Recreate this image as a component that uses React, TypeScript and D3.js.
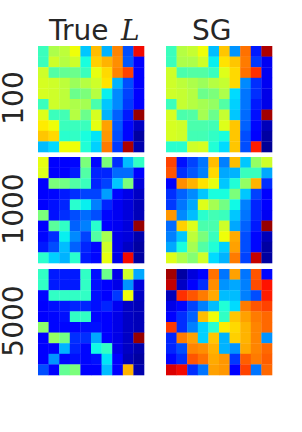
import React, { useRef, useEffect } from 'react';
import * as d3 from 'd3';

const columnTitles = ['True', 'SG'];
const rowLabels = ['100', '1000', '5000'];

// values are positions on the jet colormap (0..1)
const trueL100 = [
    [0.42, 0.56, 0.58, 0.64, 0.32, 0.71, 0.30, 0.77, 0.20, 0.90],
    [0.42, 0.60, 0.57, 0.60, 0.38, 0.69, 0.72, 0.76, 0.21, 0.12],
    [0.60, 0.45, 0.47, 0.48, 0.42, 0.63, 0.68, 0.77, 0.84, 0.12],
    [0.61, 0.60, 0.58, 0.54, 0.57, 0.60, 0.67, 0.30, 0.20, 0.12],
    [0.61, 0.60, 0.58, 0.48, 0.50, 0.57, 0.36, 0.26, 0.19, 0.12],
    [0.42, 0.60, 0.58, 0.56, 0.55, 0.44, 0.32, 0.26, 0.18, 0.11],
    [0.62, 0.42, 0.43, 0.57, 0.48, 0.61, 0.30, 0.22, 0.15, 0.98],
    [0.66, 0.64, 0.42, 0.42, 0.42, 0.63, 0.74, 0.21, 0.13, 0.06],
    [0.70, 0.68, 0.40, 0.41, 0.38, 0.35, 0.75, 0.20, 0.13, 0.03],
    [0.31, 0.34, 0.64, 0.64, 0.39, 0.33, 0.78, 0.18, 0.96, 0.04],
];

const sg100 = [
    [0.42, 0.57, 0.59, 0.64, 0.31, 0.70, 0.27, 0.79, 0.15, 0.96],
    [0.42, 0.56, 0.56, 0.60, 0.36, 0.67, 0.70, 0.78, 0.18, 0.10],
    [0.60, 0.44, 0.45, 0.45, 0.42, 0.62, 0.68, 0.79, 0.86, 0.10],
    [0.60, 0.58, 0.56, 0.54, 0.57, 0.59, 0.68, 0.26, 0.17, 0.10],
    [0.60, 0.59, 0.57, 0.48, 0.50, 0.56, 0.34, 0.24, 0.17, 0.09],
    [0.42, 0.59, 0.57, 0.55, 0.53, 0.45, 0.33, 0.24, 0.15, 0.09],
    [0.61, 0.44, 0.45, 0.55, 0.48, 0.59, 0.32, 0.23, 0.14, 0.97],
    [0.61, 0.60, 0.44, 0.44, 0.43, 0.62, 0.70, 0.22, 0.13, 0.05],
    [0.61, 0.60, 0.43, 0.43, 0.41, 0.38, 0.70, 0.20, 0.12, 0.03],
    [0.40, 0.40, 0.60, 0.61, 0.39, 0.34, 0.70, 0.20, 0.88, 0.02],
];

const trueL1000 = [
    [0.63, 0.12, 0.12, 0.13, 0.50, 0.13, 0.50, 0.17, 0.31, 0.41],
    [0.62, 0.12, 0.12, 0.15, 0.45, 0.16, 0.16, 0.23, 0.23, 0.12],
    [0.12, 0.50, 0.49, 0.45, 0.42, 0.16, 0.19, 0.32, 0.50, 0.08],
    [0.12, 0.13, 0.15, 0.17, 0.19, 0.19, 0.28, 0.13, 0.09, 0.06],
    [0.12, 0.14, 0.16, 0.40, 0.36, 0.25, 0.16, 0.10, 0.08, 0.05],
    [0.50, 0.14, 0.17, 0.20, 0.23, 0.20, 0.13, 0.10, 0.08, 0.05],
    [0.12, 0.46, 0.41, 0.22, 0.25, 0.40, 0.12, 0.10, 0.08, 0.98],
    [0.13, 0.17, 0.36, 0.26, 0.19, 0.45, 0.55, 0.09, 0.08, 0.04],
    [0.15, 0.20, 0.31, 0.22, 0.16, 0.13, 0.60, 0.09, 0.06, 0.03],
    [0.40, 0.33, 0.30, 0.40, 0.15, 0.13, 0.63, 0.09, 0.90, 0.03],
];

const sg1000 = [
    [0.84, 0.14, 0.19, 0.24, 0.71, 0.25, 0.71, 0.32, 0.53, 0.60],
    [0.82, 0.17, 0.21, 0.25, 0.68, 0.29, 0.30, 0.42, 0.42, 0.29],
    [0.12, 0.76, 0.72, 0.67, 0.63, 0.32, 0.39, 0.53, 0.72, 0.17],
    [0.17, 0.22, 0.26, 0.32, 0.38, 0.38, 0.50, 0.32, 0.19, 0.12],
    [0.18, 0.24, 0.29, 0.62, 0.55, 0.49, 0.37, 0.25, 0.16, 0.11],
    [0.75, 0.26, 0.31, 0.40, 0.43, 0.42, 0.32, 0.24, 0.16, 0.10],
    [0.23, 0.69, 0.62, 0.44, 0.44, 0.60, 0.29, 0.22, 0.15, 0.98],
    [0.25, 0.32, 0.58, 0.50, 0.42, 0.64, 0.73, 0.20, 0.13, 0.05],
    [0.29, 0.38, 0.55, 0.45, 0.39, 0.33, 0.74, 0.20, 0.13, 0.03],
    [0.62, 0.56, 0.51, 0.60, 0.34, 0.30, 0.78, 0.19, 0.94, 0.03],
];

const trueL5000 = [
    [0.41, 0.15, 0.15, 0.15, 0.41, 0.14, 0.48, 0.09, 0.60, 0.29],
    [0.41, 0.15, 0.15, 0.15, 0.41, 0.14, 0.12, 0.09, 0.27, 0.08],
    [0.13, 0.41, 0.41, 0.41, 0.41, 0.14, 0.11, 0.18, 0.64, 0.06],
    [0.12, 0.14, 0.15, 0.16, 0.16, 0.14, 0.16, 0.10, 0.06, 0.05],
    [0.12, 0.13, 0.14, 0.41, 0.41, 0.13, 0.12, 0.09, 0.06, 0.05],
    [0.52, 0.13, 0.13, 0.13, 0.14, 0.14, 0.12, 0.09, 0.06, 0.05],
    [0.11, 0.53, 0.49, 0.17, 0.17, 0.29, 0.12, 0.09, 0.06, 0.98],
    [0.11, 0.12, 0.30, 0.16, 0.13, 0.37, 0.41, 0.09, 0.06, 0.04],
    [0.12, 0.27, 0.13, 0.14, 0.13, 0.14, 0.35, 0.12, 0.05, 0.03],
    [0.20, 0.12, 0.47, 0.50, 0.11, 0.12, 0.31, 0.12, 0.72, 0.04],
];

const sg5000 = [
    [0.97, 0.03, 0.08, 0.12, 0.79, 0.24, 0.74, 0.24, 0.82, 0.13],
    [0.94, 0.06, 0.12, 0.17, 0.76, 0.27, 0.29, 0.25, 0.83, 0.89],
    [0.05, 0.86, 0.82, 0.78, 0.73, 0.31, 0.31, 0.25, 0.20, 0.88],
    [0.09, 0.13, 0.19, 0.25, 0.31, 0.39, 0.34, 0.78, 0.82, 0.84],
    [0.11, 0.17, 0.22, 0.71, 0.64, 0.41, 0.70, 0.74, 0.78, 0.80],
    [0.85, 0.17, 0.25, 0.33, 0.40, 0.66, 0.68, 0.72, 0.77, 0.80],
    [0.16, 0.78, 0.74, 0.33, 0.70, 0.30, 0.69, 0.72, 0.77, 0.27],
    [0.16, 0.20, 0.77, 0.76, 0.72, 0.30, 0.27, 0.73, 0.77, 0.80],
    [0.13, 0.17, 0.82, 0.79, 0.73, 0.75, 0.18, 0.81, 0.78, 0.81],
    [0.92, 0.90, 0.17, 0.24, 0.74, 0.75, 0.12, 0.84, 0.24, 0.80],
];

const panels = [
    [trueL100, sg100],
    [trueL1000, sg1000],
    [trueL5000, sg5000],
];

// matplotlib 'jet'
const jetR = d3.scaleLinear<number>().domain([0, 0.35, 0.66, 0.89, 1]).range([0, 0, 1, 1, 0.5]).clamp(true);
const jetG = d3.scaleLinear<number>().domain([0, 0.125, 0.375, 0.64, 0.91, 1]).range([0, 0, 1, 1, 0, 0]).clamp(true);
const jetB = d3.scaleLinear<number>().domain([0, 0.11, 0.34, 0.65, 1]).range([0.5, 1, 1, 0, 0]).clamp(true);
const jet = (v: number) => d3.rgb(jetR(v) * 255, jetG(v) * 255, jetB(v) * 255).toString();

const App: React.FC = () => {
    const svgRef = useRef<SVGSVGElement | null>(null);
    const width = 302;
    const height = 432;

    useEffect(() => {
        const svg = d3.select(svgRef.current);
        svg.selectAll('*').remove();

        const colX = [38, 166];
        const rowY = [46, 157, 269];
        const size = 106;
        const textColor = '#262626';
        const font = '"DejaVu Sans", sans-serif';

        const cell = d3.scaleBand<number>().domain(d3.range(10)).range([0, size]);

        panels.forEach((row, ri) => {
            row.forEach((grid, ci) => {
                const g = svg.append('g')
                    .attr('transform', `translate(${colX[ci]},${rowY[ri]})`);
                grid.forEach((vals, r) => {
                    g.selectAll(null)
                        .data(vals)
                        .enter()
                        .append('rect')
                        .attr('x', (d, c) => cell(c)!)
                        .attr('y', cell(r)!)
                        .attr('width', cell.bandwidth() + 0.3)
                        .attr('height', cell.bandwidth() + 0.3)
                        .attr('fill', d => jet(d));
                });
            });

            // row label
            svg.append('text')
                .attr('transform', `translate(23,${rowY[ri] + size / 2 - 1}) rotate(-90)`)
                .attr('text-anchor', 'middle')
                .style('font-family', font)
                .style('font-size', '28px')
                .attr('fill', textColor)
                .text(rowLabels[ri]);
        });

        // column titles
        svg.append('text')
            .attr('x', 49)
            .attr('y', 39.5)
            .style('font-family', font)
            .style('font-size', '28px')
            .attr('fill', textColor)
            .text(columnTitles[0]);
        svg.append('text')
            .attr('x', 121)
            .attr('y', 39.5)
            .style('font-family', '"DejaVu Serif", serif')
            .style('font-style', 'italic')
            .style('font-size', '28px')
            .attr('fill', textColor)
            .text('L');

        svg.append('text')
            .attr('x', 192)
            .attr('y', 39.5)
            .style('font-family', font)
            .style('font-size', '28px')
            .attr('fill', textColor)
            .text(columnTitles[1]);
    }, []);

    return (
        <svg ref={svgRef} width={width} height={height}
            style={{ position: 'absolute', left: 0, top: 0, background: '#fff' }} />
    );
};

export default App;
